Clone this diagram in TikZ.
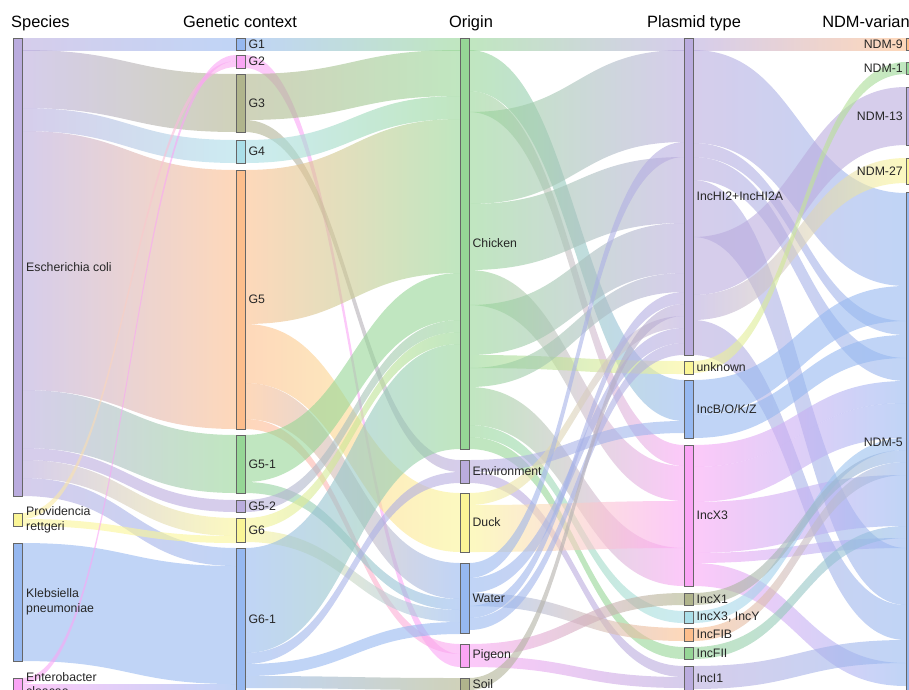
\documentclass[tikz,border=0pt]{standalone}
\usepackage{fontspec}
\setmainfont{Liberation Sans}
\usepackage{tikz}
\usetikzlibrary{positioning,calc}

\definecolor{cpur}{RGB}{186,172,222}
\definecolor{cblu}{RGB}{150,184,240}
\definecolor{cgre}{RGB}{150,214,150}
\definecolor{cora}{RGB}{253,190,140}
\definecolor{cpin}{RGB}{250,165,245}
\definecolor{cyel}{RGB}{250,245,150}
\definecolor{coli}{RGB}{176,180,140}
\definecolor{ccya}{RGB}{170,222,232}

\pgfdeclarelayer{bands}
\pgfsetlayers{bands,main}

\tikzset{
    bar/.style={
        draw=black!60,
        line width=0.4pt,
        inner sep=0pt,
        outer sep=0pt,
        minimum width=0.27cm,
        anchor=north west
    },
    tall/.style={minimum height=#1*0.03cm},
    lab/.style={
        inner sep=0pt,
        align=left,
        text=black!85,
        font=\fontsize{10.5}{12.5}\selectfont
    },
    head/.style={
        inner sep=0pt,
        anchor=base,
        font=\fontsize{14}{16}\selectfont
    }
}

% band from node #1 (offset #2) to node #3 (offset #4), width #5
\newcommand{\lnk}[7]{%
  \coordinate (s) at ($(#1.north east)+(0,#2)$);
  \coordinate (t) at ($(#3.north west)+(0,#4)$);
  \coordinate (s2) at ($(s)+(0,#5)$);
  \coordinate (t2) at ($(t)+(0,#5)$);
  \coordinate (m) at ($(s)!0.5!(t)$);
  \shade[left color=#6, right color=#7, fill opacity=0.6]
    (s) .. controls (m|-s) and (m|-t) .. (t) -- (t2)
    .. controls (m|-t2) and (m|-s2) .. (s2) -- cycle;
}

\begin{document}
\begin{tikzpicture}[x=0.03cm, y=-0.03cm]
  \useasboundingbox (0,0) rectangle (909,689);

  % Column bars
  \node[bar, fill=cpur, tall=458] (ecoli) at (13,38) {};
  \node[bar, fill=cyel, tall=13] (prov) at (13,513) {};
  \node[bar, fill=cblu, tall=118] (kleb) at (13,543) {};
  \node[bar, fill=cpin, tall=12] (entero) at (13,678) {};

  \node[bar, fill=cblu, tall=12] (g1) at (236,38) {};
  \node[bar, fill=cpin, tall=13] (g2) at (236,55) {};
  \node[bar, fill=coli, tall=58] (g3) at (236,74) {};
  \node[bar, fill=ccya, tall=23] (g4) at (236,140) {};
  \node[bar, fill=cora, tall=259] (g5) at (236,170) {};
  \node[bar, fill=cgre, tall=58] (g51) at (236,435) {};
  \node[bar, fill=cpur, tall=12] (g52) at (236,500) {};
  \node[bar, fill=cyel, tall=24] (g6) at (236,518) {};
  \node[bar, fill=cblu, tall=142] (g61) at (236,548) {};

  \node[bar, fill=cgre, tall=411] (chicken) at (460,38) {};
  \node[bar, fill=cpur, tall=23] (env) at (460,460) {};
  \node[bar, fill=cyel, tall=59] (duck) at (460,493) {};
  \node[bar, fill=cblu, tall=70] (water) at (460,563) {};
  \node[bar, fill=cpin, tall=23] (pigeon) at (460,644) {};
  \node[bar, fill=coli, tall=12] (soil) at (460,678) {};

  \node[bar, fill=cpur, tall=317] (inchi) at (684,38) {};
  \node[bar, fill=cyel, tall=13] (unk) at (684,361) {};
  \node[bar, fill=cblu, tall=58] (incb) at (684,380) {};
  \node[bar, fill=cpin, tall=141] (incx3) at (684,445) {};
  \node[bar, fill=coli, tall=12] (incx1) at (684,593) {};
  \node[bar, fill=ccya, tall=12] (incxy) at (684,611) {};
  \node[bar, fill=cora, tall=13] (incfib) at (684,628) {};
  \node[bar, fill=cgre, tall=12] (incfii) at (684,647) {};
  \node[bar, fill=cpur, tall=24] (inci1) at (684,666) {};

  \node[bar, fill=cora, tall=12] (ndm9) at (906,38) {};
  \node[bar, fill=cgre, tall=12] (ndm1) at (906,62) {};
  \node[bar, fill=cpur, tall=58] (ndm13) at (906,87) {};
  \node[bar, fill=cyel, tall=26] (ndm27) at (906,158) {};
  \node[bar, fill=cblu, tall=500] (ndm5) at (906,192) {};

  \begin{pgfonlayer}{bands}
  % Species -> genetic context
  \lnk{ecoli}{0}{g1}{0}{12}{cpur}{cblu}
  \lnk{ecoli}{12}{g3}{0}{58}{cpur}{coli}
  \lnk{ecoli}{70}{g4}{0}{23}{cpur}{ccya}
  \lnk{ecoli}{93}{g5}{0}{259}{cpur}{cora}
  \lnk{ecoli}{352}{g51}{0}{58}{cpur}{cgre}
  \lnk{ecoli}{410}{g52}{0}{12}{cpur}{cpur}
  \lnk{ecoli}{422}{g6}{0}{18}{cpur}{cyel}
  \lnk{ecoli}{440}{g61}{0}{18}{cpur}{cblu}
  \lnk{prov}{0}{g2}{6}{6}{cyel}{cpin}
  \lnk{prov}{6}{g6}{18}{7}{cyel}{cyel}
  \lnk{kleb}{0}{g61}{18}{118}{cblu}{cblu}
  \lnk{entero}{0}{g2}{0}{6}{cpin}{cpin}
  \lnk{entero}{6}{g61}{136}{6}{cpin}{cblu}

  % Genetic context -> origin
  \lnk{g1}{0}{chicken}{0}{12}{cblu}{cgre}
  \lnk{g2}{0}{pigeon}{10}{13}{cpin}{cpin}
  \lnk{g3}{0}{chicken}{12}{46}{coli}{cgre}
  \lnk{g3}{46}{env}{0}{12}{coli}{cpur}
  \lnk{g4}{0}{chicken}{58}{23}{ccya}{cgre}
  \lnk{g5}{0}{chicken}{81}{154}{cora}{cgre}
  \lnk{g5}{154}{duck}{0}{59}{cora}{cyel}
  \lnk{g5}{213}{water}{0}{36}{cora}{cblu}
  \lnk{g5}{249}{pigeon}{0}{10}{cora}{cpin}
  \lnk{g51}{0}{chicken}{235}{47}{cgre}{cgre}
  \lnk{g51}{47}{water}{36}{11}{cgre}{cblu}
  \lnk{g52}{0}{chicken}{282}{12}{cpur}{cgre}
  \lnk{g6}{0}{chicken}{294}{12}{cyel}{cgre}
  \lnk{g6}{12}{water}{47}{12}{cyel}{cblu}
  \lnk{g61}{0}{chicken}{306}{105}{cblu}{cgre}
  \lnk{g61}{105}{env}{12}{11}{cblu}{cpur}
  \lnk{g61}{116}{water}{59}{12}{cblu}{cblu}
  \lnk{g61}{128}{soil}{0}{12}{cblu}{coli}

  % Origin -> plasmid type
  \lnk{chicken}{0}{inchi}{0}{12}{cgre}{cpur}
  \lnk{chicken}{12}{incb}{0}{41}{cgre}{cblu}
  \lnk{chicken}{53}{incx3}{0}{21}{cgre}{cpin}
  \lnk{chicken}{74}{inchi}{12}{92}{cgre}{cpur}
  \lnk{chicken}{166}{inchi}{119}{66}{cgre}{cpur}
  \lnk{chicken}{232}{incx3}{21}{35}{cgre}{cpin}
  \lnk{chicken}{267}{inchi}{185}{50}{cgre}{cpur}
  \lnk{chicken}{317}{unk}{0}{13}{cgre}{cyel}
  \lnk{chicken}{330}{inchi}{235}{19}{cgre}{cpur}
  \lnk{chicken}{349}{incx3}{103}{38}{cgre}{cpin}
  \lnk{chicken}{387}{incxy}{0}{12}{cgre}{ccya}
  \lnk{chicken}{399}{incfii}{0}{12}{cgre}{cgre}
  \lnk{env}{0}{incb}{41}{12}{cpur}{cblu}
  \lnk{env}{12}{inci1}{0}{11}{cpur}{cpur}
  \lnk{duck}{0}{inchi}{278}{12}{cyel}{cpur}
  \lnk{duck}{12}{incx3}{56}{47}{cyel}{cpin}
  \lnk{water}{0}{inchi}{104}{15}{cblu}{cpur}
  \lnk{water}{15}{inchi}{290}{15}{cblu}{cpur}
  \lnk{water}{30}{incfib}{0}{13}{cblu}{cora}
  \lnk{water}{43}{inchi}{254}{12}{cblu}{cpur}
  \lnk{water}{55}{inchi}{305}{12}{cblu}{cpur}
  \lnk{pigeon}{0}{incx1}{0}{12}{cpin}{coli}
  \lnk{pigeon}{12}{inci1}{11}{11}{cpin}{cpur}
  \lnk{soil}{0}{inchi}{266}{12}{coli}{cpur}

  % Plasmid type -> NDM variant
  \lnk{inchi}{0}{ndm9}{0}{12}{cpur}{cora}
  \lnk{inchi}{12}{ndm5}{1}{93}{cpur}{cblu}
  \lnk{inchi}{105}{ndm5}{129}{14}{cpur}{cblu}
  \lnk{inchi}{119}{ndm5}{166}{23}{cpur}{cblu}
  \lnk{inchi}{142}{ndm5}{356}{57}{cpur}{cblu}
  \lnk{inchi}{199}{ndm13}{0}{58}{cpur}{cpur}
  \lnk{inchi}{257}{ndm27}{0}{25}{cpur}{cyel}
  \lnk{inchi}{282}{ndm5}{413}{35}{cpur}{cblu}
  \lnk{unk}{0}{ndm1}{0}{12}{cyel}{cgre}
  \lnk{incb}{0}{ndm5}{94}{35}{cblu}{cblu}
  \lnk{incb}{35}{ndm5}{143}{23}{cblu}{cblu}
  \lnk{incx3}{0}{ndm5}{189}{22}{cpin}{cblu}
  \lnk{incx3}{22}{ndm5}{211}{35}{cpin}{cblu}
  \lnk{incx3}{57}{ndm5}{283}{51}{cpin}{cblu}
  \lnk{incx3}{108}{ndm5}{346}{10}{cpin}{cblu}
  \lnk{incx3}{118}{ndm5}{471}{23}{cpin}{cblu}
  \lnk{incxy}{0}{ndm5}{246}{12}{ccya}{cblu}
  \lnk{incx1}{0}{ndm5}{258}{12}{coli}{cblu}
  \lnk{incfib}{0}{ndm5}{270}{13}{cora}{cblu}
  \lnk{incfii}{0}{ndm5}{334}{12}{cgre}{cblu}
  \lnk{inci1}{0}{ndm5}{448}{23}{cpur}{cblu}
  \end{pgfonlayer}

  % Labels
  \node[lab, right=0.12cm of ecoli] {Escherichia coli};
  \node[lab, right=0.12cm of prov] {Providencia\\rettgeri};
  \node[lab, right=0.12cm of kleb] {Klebsiella\\pneumoniae};
  \node[lab, right=0.12cm of entero] {Enterobacter\\cloacae};

  \node[lab, right=0.1cm of g1] {G1};
  \node[lab, right=0.1cm of g2] {G2};
  \node[lab, right=0.1cm of g3] {G3};
  \node[lab, right=0.1cm of g4] {G4};
  \node[lab, right=0.1cm of g5] {G5};
  \node[lab, right=0.1cm of g51] {G5-1};
  \node[lab, right=0.1cm of g52] {G5-2};
  \node[lab, right=0.1cm of g6] {G6};
  \node[lab, right=0.1cm of g61] {G6-1};

  \node[lab, right=0.1cm of chicken] {Chicken};
  \node[lab, right=0.1cm of env] {Environment};
  \node[lab, right=0.1cm of duck] {Duck};
  \node[lab, right=0.1cm of water] {Water};
  \node[lab, right=0.1cm of pigeon] {Pigeon};
  \node[lab, right=0.1cm of soil] {Soil};

  \node[lab, right=0.1cm of inchi] {IncHI2+IncHI2A};
  \node[lab, right=0.1cm of unk] {unknown};
  \node[lab, right=0.1cm of incb] {IncB/O/K/Z};
  \node[lab, right=0.1cm of incx3] {IncX3};
  \node[lab, right=0.1cm of incx1] {IncX1};
  \node[lab, right=0.1cm of incxy] {IncX3, IncY};
  \node[lab, right=0.1cm of incfib] {IncFIB};
  \node[lab, right=0.1cm of incfii] {IncFII};
  \node[lab, right=0.1cm of inci1] {IncI1};

  \node[lab, left=0.09cm of ndm9] {NDM-9};
  \node[lab, left=0.09cm of ndm1] {NDM-1};
  \node[lab, left=0.09cm of ndm13] {NDM-13};
  \node[lab, left=0.09cm of ndm27] {NDM-27};
  \node[lab, left=0.09cm of ndm5] {NDM-5};

  % Column titles
  \node[head, anchor=base west] (hspec) at (11,27) {Species};
  \node[head] (hgen) at (240,27) {Genetic context};
  \node[head] (horig) at (471,27) {Origin};
  \node[head] (hplas) at (694,27) {Plasmid type};
  \node[head, anchor=base west] (hndm) at (822,27) {NDM-variant};
\end{tikzpicture}
\end{document}
